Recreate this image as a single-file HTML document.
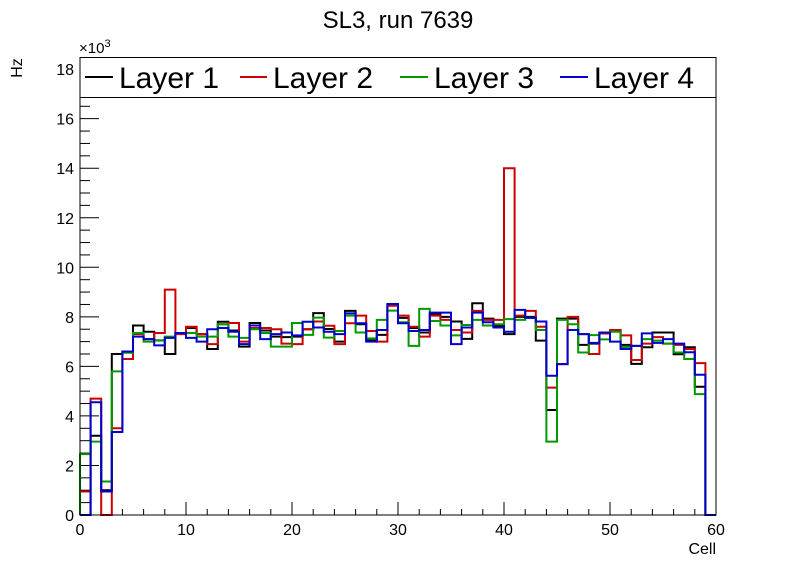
<!DOCTYPE html>
<html><head><meta charset="utf-8"><style>
body{margin:0;background:#fff;}
svg text{font-family:"Liberation Sans",sans-serif;}
</style></head><body>
<svg id="chart" width="796" height="572" xmlns="http://www.w3.org/2000/svg">
<text x="398" y="28" font-size="24" text-anchor="middle">SL3, run 7639</text>
<text x="22" y="68" font-size="16" text-anchor="middle" transform="rotate(-90 22 68)">Hz</text>
<text x="79" y="53" font-size="15">×10<tspan font-size="11" dy="-6">3</tspan></text>
<text x="716" y="554" font-size="16" text-anchor="end">Cell</text>
<g id="ticks"></g>
<g id="series"></g>
<rect x="80" y="57.5" width="636" height="457.5" fill="none" stroke="#000" stroke-width="1"/>
<g>
<rect x="80" y="57.5" width="636" height="40" fill="#fff" stroke="#000" stroke-width="1"/>
<g><line x1="85" y1="77" x2="113" y2="77" stroke="#000" stroke-width="2"/><text x="119" y="88" font-size="30">Layer 1</text></g>
<g><line x1="240" y1="77" x2="267" y2="77" stroke="#cc0000" stroke-width="2"/><text x="273" y="88" font-size="30">Layer 2</text></g>
<g><line x1="400" y1="77" x2="428" y2="77" stroke="#009900" stroke-width="2"/><text x="434" y="88" font-size="30">Layer 3</text></g>
<g><line x1="560" y1="77" x2="588" y2="77" stroke="#0000cc" stroke-width="2"/><text x="594" y="88" font-size="30">Layer 4</text></g>
</g>
</svg>
<script>
const layer1 = [0,3.2,1.0,6.5,6.6,7.65,7.4,7.05,6.5,7.35,7.55,7.3,6.7,7.8,7.45,6.8,7.75,7.45,7.2,7.18,7.2,7.5,8.15,7.51,7.0,8.24,7.7,7.05,7.27,8.5,7.96,7.55,7.37,8.1,8.0,7.81,7.11,8.55,7.93,7.63,7.3,8.0,8.0,7.04,4.24,7.93,7.93,6.87,6.92,7.33,7.43,6.87,6.1,6.77,7.37,7.37,6.49,6.77,5.18,0];
const layer2 = [0.95,4.7,0,3.5,6.3,7.3,7.1,7.35,9.1,7.3,7.6,7.3,6.9,7.7,7.75,7.0,7.55,7.55,7.5,6.92,6.9,7.5,7.81,7.64,6.9,7.74,8.05,7.43,7.0,8.45,8.05,7.6,7.2,8.05,7.88,7.47,7.37,8.24,7.88,7.88,14.0,8.05,8.24,7.6,5.14,6.09,8.0,7.3,6.5,7.33,7.47,7.25,6.26,6.92,7.18,6.92,6.87,6.7,6.13,0];
const layer3 = [2.46,2.96,1.35,5.8,6.55,7.35,7.0,7.05,7.2,7.35,7.35,7.2,7.2,7.7,7.2,7.15,7.5,7.35,6.8,6.8,7.75,7.27,7.97,7.16,7.43,8.05,7.37,7.13,7.88,8.25,7.78,6.83,8.32,7.83,7.65,7.25,7.67,7.88,7.65,7.7,7.91,7.88,7.96,7.47,2.96,7.88,7.7,6.56,7.26,7.09,7.4,6.78,6.83,7.1,7.04,6.92,6.56,6.3,4.88,0];
const layer4 = [0,4.55,0.95,3.35,6.6,7.2,7.1,6.85,7.15,7.35,7.15,7.0,7.5,7.55,7.4,6.9,7.65,7.1,7.3,7.37,7.25,7.8,7.57,7.4,7.3,8.14,7.74,7.0,7.47,8.52,7.74,7.43,7.47,8.17,8.17,6.9,7.57,8.17,7.78,7.57,7.4,8.28,7.96,7.81,5.62,6.09,7.47,7.3,6.95,7.37,7.0,6.7,6.83,7.33,6.95,7.1,6.92,6.57,5.66,0];
const seriesNames = ["layer-1","layer-2","layer-3","layer-4"];
const seriesColors = ["#000000","#cc0000","#009900","#0000cc"];
const xTickLabels = [0,10,20,30,40,50,60];
const yTickLabels = [0,2,4,6,8,10,12,14,16,18];

const X0=80,X1=716,Y0=515,YT=57.5,XMAX=60,YMAX=18.47;
const xs=v=>X0+(X1-X0)*v/XMAX;
const ys=v=>Y0-(Y0-YT)*v/YMAX;
const NS="http://www.w3.org/2000/svg";
const tg=document.getElementById('ticks');
function mk(tag,attrs,parent){const e=document.createElementNS(NS,tag);for(const k in attrs)e.setAttribute(k,attrs[k]);parent.appendChild(e);return e;}
// x ticks
for(let v=0;v<=XMAX;v+=2){
  const major=v%10===0;
  const t=mk('line',{x1:xs(v),x2:xs(v),y1:Y0,y2:Y0-(major?13:6),stroke:'#000','stroke-width':1},tg);
  
  
}
xTickLabels.forEach(v=>{
  const t=mk('text',{x:xs(v),y:Y0+20,'font-size':16,'text-anchor':'middle'},tg);
  t.textContent=v;
  
  
});
// y ticks
for(let v=0;v<=YMAX;v+=0.5){
  const major=Math.abs(v%2)<1e-9;
  const t=mk('line',{x1:X0,x2:X0+(major?19:10),y1:ys(v),y2:ys(v),stroke:'#000','stroke-width':1},tg);
  
  
}
yTickLabels.forEach(v=>{
  const t=mk('text',{x:X0-6,y:ys(v)+6,'font-size':16,'text-anchor':'end'},tg);
  t.textContent=v;
  
  
});
// series
const sg=document.getElementById('series');
[layer1,layer2,layer3,layer4].forEach((data,si)=>{
  let d='M'+xs(0)+','+ys(0);
  data.forEach((v,i)=>{d+=' L'+xs(i)+','+ys(v)+' L'+xs(i+1)+','+ys(v);});
  d+=' L'+xs(data.length)+','+ys(0);
  const p=mk('path',{d:d,fill:'none',stroke:seriesColors[si],'stroke-width':2},sg);
  
  
});
</script>
</body></html>
